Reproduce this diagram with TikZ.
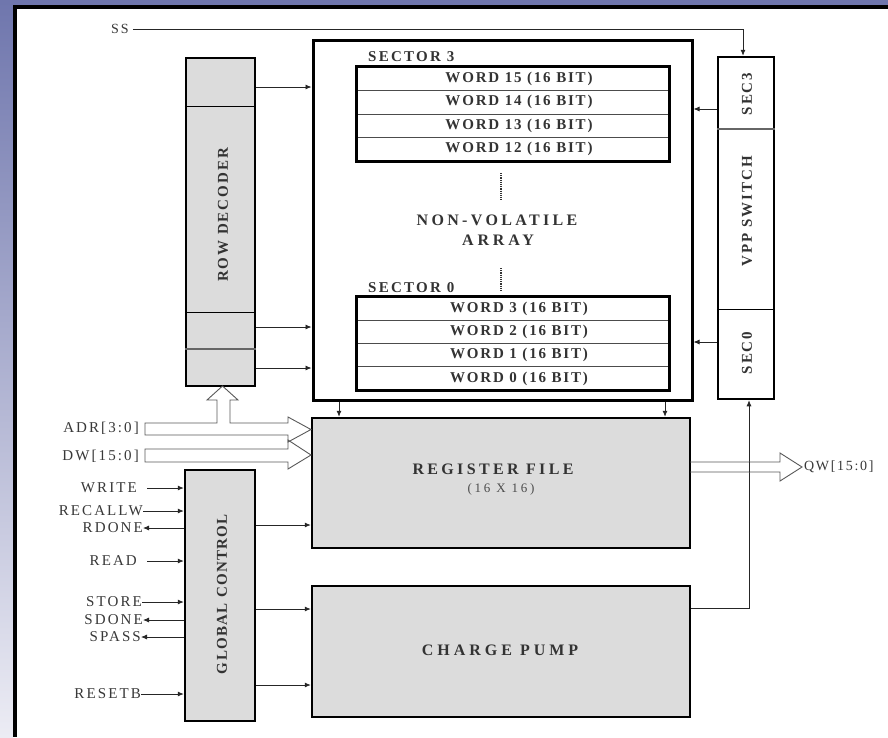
\documentclass[tikz,border=0pt]{standalone}
\usepackage{fontspec}
\setmainfont{Liberation Serif}
\usetikzlibrary{arrows.meta,calc}
\newcommand\lsp[1]{\addfontfeature{LetterSpace=#1}}
\definecolor{frameblue}{HTML}{6F76AD}
\definecolor{framelight}{HTML}{ECECF4}
\definecolor{boxgray}{HTML}{DCDCDC}
\begin{document}
\begin{tikzpicture}[x=1pt,y=-1pt,
  blk/.style={draw=black, line width=2.5pt, fill=boxgray, inner sep=0pt},
  wrow/.style={draw=black!70, line width=0.8pt, inner sep=0pt, minimum width=312pt,
    font=\fontsize{15}{17}\selectfont\bfseries\lsp{12}, text=black!80},
  btxt/.style={font=\fontsize{15}{17}\selectfont\bfseries, text=black!80, inner sep=0pt},
  lbl/.style={font=\fontsize{15}{17}\selectfont\lsp{14}, text=black!78, inner sep=0pt, anchor=east},
  sig/.style={-{Latex[length=6pt,width=5pt]}, line width=0.8pt, draw=black!85},
  wire/.style={line width=0.8pt, draw=black!85},
  bus/.style={draw=black!65, line width=0.9pt, line join=miter}
]
\useasboundingbox (0,0) rectangle (888,737);
% frame
\fill[white] (0,0) rectangle (888,737);
\shade[top color=frameblue, bottom color=framelight] (0,0) rectangle (13,737);
\fill[frameblue] (0,0) rectangle (888,4.5);
\fill[black] (12.5,4.5) rectangle (888,9);
\fill[black] (12.5,4.5) rectangle (17,737);

% non-volatile array
\node[draw=black, line width=3pt, minimum width=379pt, minimum height=360pt, inner sep=0pt] (arr) at (502.5,220) {};
% sector 3
\node[wrow, minimum height=23.5pt] (w15) at (513,78.75) {\hspace*{12pt}WORD 15 (16 BIT)};
\node[wrow, minimum height=23.5pt] (w14) at (513,102.25) {\hspace*{12pt}WORD 14 (16 BIT)};
\node[wrow, minimum height=23.5pt] (w13) at (513,125.75) {\hspace*{12pt}WORD 13 (16 BIT)};
\node[wrow, minimum height=23.5pt] (w12) at (513,149.25) {\hspace*{12pt}WORD 12 (16 BIT)};
\draw[line width=3.5pt] (w15.north west) rectangle (w12.south east);
\node[btxt, font=\fontsize{15}{17}\selectfont\bfseries\lsp{15}, anchor=west] (sec3lbl) at (368,57) {SECTOR 3};
% sector 0
\node[wrow, minimum height=23.25pt] (w3) at (513,308.6) {\hspace*{12pt}WORD 3 (16 BIT)};
\node[wrow, minimum height=23.25pt] (w2) at (513,331.9) {\hspace*{12pt}WORD 2 (16 BIT)};
\node[wrow, minimum height=23.25pt] (w1) at (513,355.1) {\hspace*{12pt}WORD 1 (16 BIT)};
\node[wrow, minimum height=23.25pt] (w0) at (513,378.4) {\hspace*{12pt}WORD 0 (16 BIT)};
\draw[line width=3.5pt] (w3.north west) rectangle (w0.south east);
\node[btxt, font=\fontsize{15}{17}\selectfont\bfseries\lsp{15}, anchor=west] (sec0lbl) at (368,288) {SECTOR 0};
% dots and array label
\draw[line width=2pt, dash pattern=on 1.2pt off 1pt, black!80] (501,173) -- (501,200);
\draw[line width=2pt, dash pattern=on 1.2pt off 1pt, black!80] (501,268) -- (501,292);
\node[btxt, font=\fontsize{16}{18}\selectfont\bfseries\lsp{21}] (nv) at (497,220) {NON-VOLATILE};
\node[btxt, font=\fontsize{16}{18}\selectfont\bfseries\lsp{24}] (nva) at (498,240) {ARRAY};

% row decoder
\node[blk, minimum width=69pt, minimum height=328pt] (rd) at (220.5,222) {};
\draw[line width=1pt] (rd.west |- 0,106) -- (rd.east |- 0,106);
\draw[line width=1pt] (rd.west |- 0,312) -- (rd.east |- 0,312);
\draw[line width=1.5pt, black!60] (rd.west |- 0,349) -- (rd.east |- 0,349);
\node[btxt, rotate=90, font=\fontsize{15}{17}\selectfont\bfseries\lsp{13}] (rdt) at (223,215) {ROW DECODER};

% vpp switch
\node[draw=black, line width=2.5pt, fill=white, minimum width=56pt, minimum height=342pt, inner sep=0pt] (vpp) at (746,228) {};
\draw[line width=1.5pt, black!60] (vpp.west |- 0,129) -- (vpp.east |- 0,129);
\draw[line width=1pt] (vpp.west |- 0,309) -- (vpp.east |- 0,309);
\node[btxt, rotate=90, font=\fontsize{15}{17}\selectfont\bfseries\lsp{12}] (sec3t) at (747,94) {SEC3};
\node[btxt, rotate=90, font=\fontsize{15}{17}\selectfont\bfseries\lsp{13}] (vppt) at (747,211) {VPP SWITCH};
\node[btxt, rotate=90, font=\fontsize{15}{17}\selectfont\bfseries\lsp{12}] (sec0t) at (747,353) {SEC0};

% register file and charge pump
\node[blk, minimum width=378pt, minimum height=130pt] (rf) at (501,483) {};
\node[btxt, font=\fontsize{16}{18}\selectfont\bfseries\lsp{21}] (rft) at (493,469) {REGISTER FILE};
\node[btxt, font=\fontsize{13}{15}\selectfont\lsp{21}, text=black!70] (rft2) at (501,489) {(16 X 16)};
\node[blk, minimum width=378pt, minimum height=131pt] (cp) at (501,651.5) {};
\node[btxt, font=\fontsize{16}{18}\selectfont\bfseries\lsp{25}] (cpt) at (500,650) {CHARGE PUMP};

% global control
\node[blk, minimum width=70pt, minimum height=251pt] (gc) at (220,595.5) {};
\node[btxt, rotate=90, font=\fontsize{15}{17}\selectfont\bfseries\lsp{9}] (gct) at (222,594) {GLOBAL CONTROL};

% connectors: row decoder -> array
\draw[sig] (rd.east |- 0,87) -- (arr.west |- 0,87);
\draw[sig] (rd.east |- 0,327) -- (arr.west |- 0,327);
\draw[sig] (rd.east |- 0,368) -- (arr.west |- 0,368);
% vpp -> array
\draw[sig] (vpp.west |- 0,109) -- (arr.east |- 0,109);
\draw[sig] (vpp.west |- 0,342) -- (arr.east |- 0,342);
% array -> register file
\draw[sig] (arr.south -| 339,0) -- (rf.north -| 339,0);
\draw[sig] (arr.south -| 665,0) -- (rf.north -| 665,0);
% global control -> blocks
\draw[sig] (gc.east |- 0,525) -- (rf.west |- 0,525);
\draw[sig] (gc.east |- 0,609) -- (cp.west |- 0,609);
\draw[sig] (gc.east |- 0,685) -- (cp.west |- 0,685);
% charge pump -> vpp
\draw[sig] (cp.east |- 0,608) -| ($(vpp.south)+(3,0)$);

% SS
\node[lbl, anchor=west, font=\fontsize{14}{16}\selectfont\lsp{14}] (ss) at (111,29) {SS\hspace*{4pt}};
\draw[sig] (ss.east) -| ($(vpp.north)+(-3,0)$);

% buses
\draw[bus] (145,423) -- (217,423) -- (217,400) -- (207,400) -- (222.5,386) -- (238,400)
  -- (230,400) -- (230,423) -- (288,423) -- (288,417) -- (311,429.5) -- (288,442)
  -- (288,435) -- (145,435) -- cycle;
\draw[bus] (145,449) -- (288,449) -- (288,440) -- (311,455) -- (288,469) -- (288,462)
  -- (145,462) -- cycle;
\draw[bus] (690,462) -- (780,462) -- (780,453) -- (802,467) -- (780,481) -- (780,472)
  -- (690,472);
\draw[wire] (749,462) -- (749,472);

% bus labels
\node[lbl] (adr) at (139,428) {ADR[3:0]};
\node[lbl] (dw) at (139,456) {DW[15:0]};
\node[lbl, anchor=west, font=\fontsize{14}{16}\selectfont\lsp{12}] (qw) at (804,467) {QW[15:0]};

% global control signals
\node[lbl] (write) at (147,488) {WRITE\hspace*{10pt}};
\node[lbl] (recallw) at (143,511) {RECALLW};
\node[lbl] (rdone) at (143,528) {RDONE};
\node[lbl] (read) at (147,561) {READ\hspace*{10pt}};
\node[lbl] (store) at (142,602) {STORE};
\node[lbl] (sdone) at (143,620) {SDONE};
\node[lbl] (spass) at (141,637) {SPASS};
\node[lbl] (resetb) at (141,694) {RESETB};
\draw[sig] (write.east) -- (gc.west |- write.east);
\draw[sig] (recallw.east) -- (gc.west |- recallw.east);
\draw[sig] (gc.west |- rdone.east) -- (rdone.east);
\draw[sig] (read.east) -- (gc.west |- read.east);
\draw[sig] (store.east) -- (gc.west |- store.east);
\draw[sig] (gc.west |- sdone.east) -- (sdone.east);
\draw[sig] (gc.west |- spass.east) -- (spass.east);
\draw[sig] (resetb.east) -- (gc.west |- resetb.east);
\end{tikzpicture}
\end{document}
